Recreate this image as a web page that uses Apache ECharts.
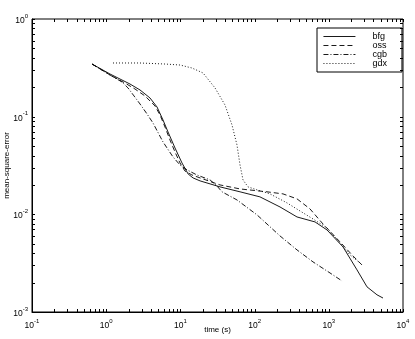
<!DOCTYPE html>
<html>
<head>
<meta charset="utf-8">
<script src="https://cdn.jsdelivr.net/npm/echarts@6/dist/echarts.min.js"></script>
<style>
  html, body { margin: 0; padding: 0; background: #fff; }
  #chart { width: 415px; height: 339px; }
</style>
</head>
<body>
<div id="chart"></div>
<script>
// Training time (s) versus mean-square-error for four training algorithms
const bfgTime = [0.644, 1.125, 2.09, 2.855, 3.89, 4.84, 5.83, 6.81, 8.46, 10.5, 12.7, 14.8, 18.4, 34.2, 63.6, 118, 220, 373, 652, 946, 1554, 2399, 3272, 4462, 5378];
const bfgErr  = [0.346, 0.2735, 0.216, 0.1877, 0.1554, 0.1257, 0.0925, 0.0697, 0.0478, 0.0336, 0.0259, 0.0236, 0.022, 0.0191, 0.017, 0.0151, 0.0119, 0.0094, 0.00836, 0.00692, 0.00464, 0.0027, 0.00181, 0.0015, 0.00139];

const ossTime = [0.644, 1.125, 1.79, 2.44, 3.33, 4.55, 5.31, 6.20, 7.24, 8.46, 9.88, 11.5, 14.3, 18.4, 34.2, 63.6, 147, 241, 373, 558, 835, 1416, 2119, 2802];
const ossErr  = [0.346, 0.267, 0.221, 0.192, 0.163, 0.1287, 0.1041, 0.0784, 0.0577, 0.0435, 0.0336, 0.0278, 0.0253, 0.0236, 0.02, 0.0182, 0.017, 0.0162, 0.0144, 0.01136, 0.00797, 0.00522, 0.00375, 0.00303];

const cgbTime = [0.644, 1.125, 1.63, 1.97, 2.37, 2.855, 3.55, 4.27, 5.83, 7.95, 9.88, 12.3, 16.7, 25.1, 31.1, 36.4, 57.9, 108, 220, 373, 612, 1038, 1507];
const cgbErr  = [0.346, 0.267, 0.2265, 0.1967, 0.163, 0.1349, 0.1066, 0.0862, 0.0551, 0.0387, 0.032, 0.0285, 0.0253, 0.0225, 0.0195, 0.017, 0.01404, 0.00986, 0.00601, 0.00432, 0.00326, 0.00251, 0.00208];

const gdxTime = [1.235, 2.855, 6.2, 9.88, 14.3, 20.2, 29.3, 39.9, 49.6, 57.9, 63.6, 69.8, 81.5, 108, 161, 273, 409, 612, 946, 1416, 1931, 2634];
const gdxErr  = [0.3544, 0.3544, 0.346, 0.338, 0.315, 0.28, 0.1967, 0.1317, 0.0822, 0.0513, 0.032, 0.0225, 0.0191, 0.0178, 0.0162, 0.0131, 0.01083, 0.00897, 0.00726, 0.0051, 0.00384, 0.00318];

const seriesNames = ['bfg', 'oss', 'cgb', 'gdx'];
const xDecades = [0.1, 1, 10, 100, 1000, 10000];
const yDecades = [0.001, 0.01, 0.1, 1];

const xMin = 0.1, xMax = 10000, yMin = 0.001, yMax = 1;
const FONT = '"Liberation Sans", Arial, Helvetica, sans-serif';
const TICK = 3;

// decade plus 2..9 sub-decade positions for the log tick marks
function logTicks(decades) {
  const out = [];
  decades.forEach((d, i) => {
    out.push(d);
    if (i < decades.length - 1) for (let k = 2; k <= 9; k++) out.push(+(d * k).toPrecision(6));
  });
  return out;
}
const xTicks = logTicks(xDecades);
const yTicks = logTicks(yDecades);

const zip = (a, b) => a.map((v, i) => [v, b[i]]);

function powLabel(v) {
  const e = Math.round(Math.log10(v));
  return '{b|10}{s|' + e + '}';
}
const labelRich = {
  b: { fontSize: 8.5, fontFamily: FONT, color: '#000', verticalAlign: 'bottom', lineHeight: 12 },
  s: { fontSize: 6, fontFamily: FONT, color: '#000', verticalAlign: 'top', lineHeight: 12 }
};

const crisp = v => Math.round(v) + 0.5;

const lineStyles = [
  { type: 'solid' },
  { type: [5, 3] },
  { type: [5, 2, 1, 2] },
  { type: [1, 2] }
];
const seriesData = [zip(bfgTime, bfgErr), zip(ossTime, ossErr), zip(cgbTime, cgbErr), zip(gdxTime, gdxErr)];

const lineSeries = seriesNames.map((name, i) => ({
  name: name,
  type: 'line',
  data: seriesData[i],
  symbol: 'none',
  showSymbol: false,
  smooth: false,
  silent: true,
  animation: false,
  lineStyle: Object.assign({ color: '#000', width: 0.9 }, lineStyles[i]),
  itemStyle: { color: '#000' },
  z: 3
}));

const xTickSeries = {
  type: 'custom',
  silent: true,
  animation: false,
  z: 5,
  data: xTicks.map(v => [v, yMin]),
  renderItem: function (params, api) {
    const cs = params.coordSys;
    const x = crisp(api.coord([api.value(0), yMin])[0]);
    const yb = cs.y + cs.height, yt = cs.y;
    const st = { stroke: '#000', lineWidth: 1 };
    return { type: 'group', children: [
      { type: 'line', shape: { x1: x, y1: yb, x2: x, y2: yb - TICK }, style: st },
      { type: 'line', shape: { x1: x, y1: yt, x2: x, y2: yt + TICK }, style: st }
    ] };
  }
};
const yTickSeries = {
  type: 'custom',
  silent: true,
  animation: false,
  z: 5,
  data: yTicks.map(v => [xMin, v]),
  renderItem: function (params, api) {
    const cs = params.coordSys;
    const y = crisp(api.coord([xMin, api.value(1)])[1]);
    const xl = cs.x, xr = cs.x + cs.width;
    const st = { stroke: '#000', lineWidth: 1 };
    return { type: 'group', children: [
      { type: 'line', shape: { x1: xl, y1: y, x2: xl + TICK, y2: y }, style: st },
      { type: 'line', shape: { x1: xr, y1: y, x2: xr - TICK, y2: y }, style: st }
    ] };
  }
};

const chart = echarts.init(document.getElementById('chart'), null, { renderer: 'canvas' });
chart.setOption({
  animation: false,
  backgroundColor: '#fff',
  textStyle: { fontFamily: FONT },
  grid: {
    left: 32, right: 12, top: 19, bottom: 27,
    containLabel: false,
    outerBoundsMode: 'none',
    show: true, borderColor: '#000', borderWidth: 1, backgroundColor: 'transparent'
  },
  legend: {
    data: seriesNames,
    orient: 'vertical',
    left: 317, top: 28,
    padding: [4, 15, 4, 6],
    itemGap: 0,
    itemWidth: 32,
    itemHeight: 10,
    backgroundColor: '#fff',
    borderColor: '#000',
    borderWidth: 1,
    borderRadius: 0,
    selectedMode: false,
    itemStyle: { opacity: 0, borderWidth: 0 },
    lineStyle: { width: 0.9 },
    textStyle: { fontSize: 9, fontFamily: FONT, color: '#000', padding: [0, 0, 0, 12] }
  },
  xAxis: {
    type: 'log', logBase: 10, min: xMin, max: xMax, splitNumber: 5,
    name: 'time (s)', nameLocation: 'middle', nameGap: 14, nameMoveOverlap: false,
    nameTextStyle: { fontSize: 8, fontFamily: FONT, color: '#000', verticalAlign: 'top' },
    axisLine: { show: true, lineStyle: { color: '#000', width: 1 } },
    axisTick: { show: false },
    splitLine: { show: false },
    axisLabel: { margin: 6, formatter: powLabel, rich: labelRich, showMinLabel: true, showMaxLabel: true }
  },
  yAxis: {
    type: 'log', logBase: 10, min: yMin, max: yMax, splitNumber: 3,
    name: 'mean-square-error', nameLocation: 'middle', nameGap: 21, nameMoveOverlap: false,
    nameTextStyle: { fontSize: 8, fontFamily: FONT, color: '#000' },
    axisLine: { show: true, lineStyle: { color: '#000', width: 1 } },
    axisTick: { show: false },
    splitLine: { show: false },
    axisLabel: { margin: 4, formatter: powLabel, rich: labelRich, showMinLabel: true, showMaxLabel: true }
  },
  series: lineSeries.concat([xTickSeries, yTickSeries])
});
</script>
</body>
</html>
